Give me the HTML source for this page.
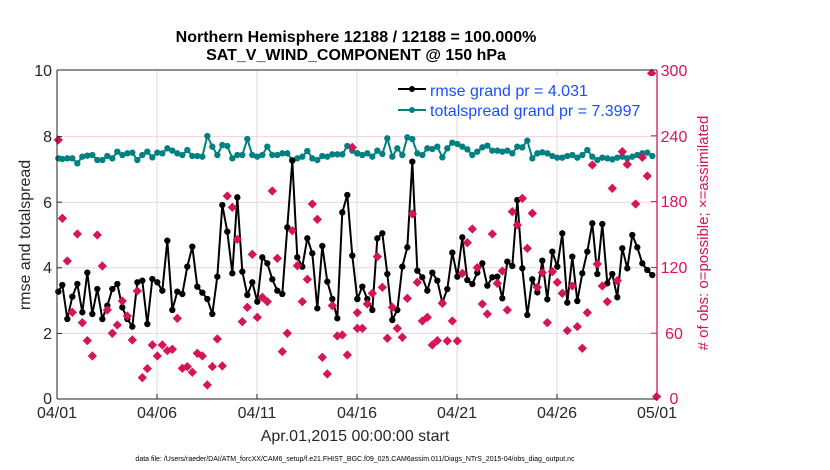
<!DOCTYPE html>
<html><head><style>body{margin:0;background:#fff}svg{display:block;font-family:"Liberation Sans",sans-serif}</style></head><body>
<svg width="830" height="470" viewBox="0 0 830 470">
<defs><path id="d" d="M0,-14 L14,0 L0,14 L-14,0Z" fill="#d6145a"/>
<marker id="mk" markerUnits="userSpaceOnUse" markerWidth="24" markerHeight="24" refX="12" refY="12" viewBox="0 0 24 24"><circle cx="12" cy="12" r="9.5" fill="#000"/></marker>
<marker id="mt" markerUnits="userSpaceOnUse" markerWidth="24" markerHeight="24" refX="12" refY="12" viewBox="0 0 24 24"><circle cx="12" cy="12" r="9.5" fill="#008080"/></marker>
</defs>
<rect width="830" height="470" fill="#fff"/>
<g stroke="#f0d0dc" stroke-width="1">
<line x1="57" y1="333.4" x2="656" y2="333.4"/><line x1="57" y1="267.8" x2="656" y2="267.8"/><line x1="57" y1="202.2" x2="656" y2="202.2"/><line x1="57" y1="136.6" x2="656" y2="136.6"/></g>
<g stroke="#dcdcdc" stroke-width="1"><line x1="157" y1="70" x2="157" y2="399"/><line x1="257" y1="70" x2="257" y2="399"/><line x1="357" y1="70" x2="357" y2="399"/><line x1="457" y1="70" x2="457" y2="399"/><line x1="557" y1="70" x2="557" y2="399"/></g>
<g transform="translate(50,120) scale(0.3333)">
<polyline fill="none" stroke="#008080" stroke-width="6" marker-start="url(#mt)" marker-mid="url(#mt)" marker-end="url(#mt)" points="25,115 37,117 52,115 67,115 82,130 97,110 112,107 127,105 142,120 157,120 172,108 187,115 202,95 217,105 232,100 247,98 262,120 277,105 292,95 307,112 322,98 337,100 352,85 367,92 382,100 397,105 412,90 427,108 442,108 457,110 472,48 487,80 502,105 517,75 532,78 547,115 562,105 577,105 592,57 607,105 622,110 637,105 652,80 667,105 682,105 697,100 712,100 727,120 742,115 757,110 772,93 787,115 802,120 817,108 832,110 847,103 862,103 877,103 892,78 907,92 922,100"/>
<polyline fill="none" stroke="#000" stroke-width="6" marker-start="url(#mk)" marker-mid="url(#mk)" marker-end="url(#mk)" points="25,515 37,495 52,597 67,530 82,492 97,577 112,458 127,582 142,507 157,597 172,557 187,507 202,492 217,562 232,597 247,620 262,487 277,482 292,612 307,477 322,487 337,512 352,362 367,570 382,515 397,522 412,440 427,380 442,500 457,518 472,537 487,582 502,470 517,255 532,335 547,460 562,232 577,455 592,525 607,487 622,545 637,412 652,430 667,478 682,512 697,522 712,322 727,122 742,412 757,440 772,355 787,400 802,565 817,378 832,485 847,537 862,595 877,277 892,225 907,407 922,537"/>
</g>
<g transform="translate(350,120) scale(0.3333)">
<polyline fill="none" stroke="#008080" stroke-width="6" marker-start="url(#mt)" marker-mid="url(#mt)" marker-end="url(#mt)" points="22,100 37,105 52,100 67,110 82,92 97,102 112,55 127,110 142,85 157,105 172,52 187,57 202,100 217,105 232,85 247,87 262,80 277,112 292,85 307,68 322,72 337,80 352,88 367,105 382,95 397,82 412,77 427,92 442,92 457,95 472,92 487,100 502,80 517,82 532,62 547,115 562,100 577,97 592,100 607,108 622,113 637,113 652,108 667,105 682,113 697,105 712,90 727,110 742,120 757,113 772,115 787,118 802,113 817,110 832,115 847,110 862,105 877,100 892,98 907,108"/>
<polyline fill="none" stroke="#000" stroke-width="6" marker-start="url(#mk)" marker-mid="url(#mk)" marker-end="url(#mk)" points="22,537 37,500 52,537 67,570 82,355 97,340 112,462 127,600 142,570 157,440 172,382 187,125 202,452 217,472 232,512 247,458 262,482 277,548 292,507 307,398 322,470 337,352 352,480 367,492 382,458 397,430 412,497 427,472 442,470 457,535 472,425 487,438 502,240 517,445 532,585 547,478 562,517 577,422 592,538 607,395 622,440 637,340 652,548 667,410 682,543 697,460 712,395 727,310 742,462 757,312 772,490 787,462 802,532 817,385 832,445 847,345 862,382 877,430 892,450 907,465"/>
</g>
<g fill="#d6145a">
<g transform="translate(50,120) scale(0.3333)">
<use href="#d" x="25" y="60"/><use href="#d" x="37" y="295"/><use href="#d" x="52" y="423"/><use href="#d" x="67" y="577"/><use href="#d" x="82" y="342"/><use href="#d" x="97" y="608"/><use href="#d" x="112" y="662"/><use href="#d" x="127" y="708"/><use href="#d" x="142" y="345"/><use href="#d" x="157" y="438"/><use href="#d" x="172" y="570"/><use href="#d" x="187" y="640"/><use href="#d" x="202" y="615"/><use href="#d" x="217" y="543"/><use href="#d" x="232" y="588"/><use href="#d" x="247" y="660"/><use href="#d" x="262" y="513"/><use href="#d" x="277" y="773"/><use href="#d" x="292" y="746"/><use href="#d" x="307" y="675"/><use href="#d" x="322" y="708"/><use href="#d" x="337" y="675"/><use href="#d" x="352" y="692"/><use href="#d" x="367" y="688"/><use href="#d" x="382" y="595"/><use href="#d" x="397" y="745"/><use href="#d" x="412" y="740"/><use href="#d" x="427" y="757"/><use href="#d" x="442" y="700"/><use href="#d" x="457" y="708"/><use href="#d" x="472" y="795"/><use href="#d" x="487" y="740"/><use href="#d" x="502" y="657"/><use href="#d" x="517" y="738"/><use href="#d" x="532" y="228"/><use href="#d" x="547" y="262"/><use href="#d" x="562" y="358"/><use href="#d" x="577" y="605"/><use href="#d" x="592" y="562"/><use href="#d" x="607" y="403"/><use href="#d" x="622" y="592"/><use href="#d" x="637" y="532"/><use href="#d" x="652" y="545"/><use href="#d" x="667" y="213"/><use href="#d" x="682" y="415"/><use href="#d" x="697" y="695"/><use href="#d" x="712" y="640"/><use href="#d" x="727" y="332"/><use href="#d" x="742" y="437"/><use href="#d" x="757" y="545"/><use href="#d" x="772" y="478"/><use href="#d" x="787" y="252"/><use href="#d" x="802" y="298"/><use href="#d" x="817" y="712"/><use href="#d" x="832" y="762"/><use href="#d" x="847" y="557"/><use href="#d" x="862" y="648"/><use href="#d" x="877" y="645"/><use href="#d" x="892" y="705"/><use href="#d" x="907" y="82"/><use href="#d" x="922" y="578"/>
</g>
<g transform="translate(350,120) scale(0.3333)">
<use href="#d" x="22" y="625"/><use href="#d" x="37" y="625"/><use href="#d" x="52" y="552"/><use href="#d" x="67" y="520"/><use href="#d" x="82" y="410"/><use href="#d" x="97" y="502"/><use href="#d" x="112" y="655"/><use href="#d" x="127" y="562"/><use href="#d" x="142" y="625"/><use href="#d" x="157" y="652"/><use href="#d" x="172" y="535"/><use href="#d" x="187" y="282"/><use href="#d" x="202" y="487"/><use href="#d" x="217" y="603"/><use href="#d" x="232" y="592"/><use href="#d" x="247" y="675"/><use href="#d" x="262" y="662"/><use href="#d" x="277" y="550"/><use href="#d" x="292" y="663"/><use href="#d" x="307" y="603"/><use href="#d" x="322" y="663"/><use href="#d" x="337" y="460"/><use href="#d" x="352" y="368"/><use href="#d" x="367" y="327"/><use href="#d" x="382" y="443"/><use href="#d" x="397" y="552"/><use href="#d" x="412" y="582"/><use href="#d" x="427" y="342"/><use href="#d" x="442" y="490"/><use href="#d" x="457" y="453"/><use href="#d" x="472" y="570"/><use href="#d" x="487" y="275"/><use href="#d" x="502" y="315"/><use href="#d" x="517" y="235"/><use href="#d" x="532" y="385"/><use href="#d" x="547" y="280"/><use href="#d" x="562" y="502"/><use href="#d" x="577" y="458"/><use href="#d" x="592" y="608"/><use href="#d" x="607" y="455"/><use href="#d" x="622" y="487"/><use href="#d" x="637" y="520"/><use href="#d" x="652" y="632"/><use href="#d" x="667" y="498"/><use href="#d" x="682" y="620"/><use href="#d" x="697" y="685"/><use href="#d" x="712" y="578"/><use href="#d" x="727" y="135"/><use href="#d" x="742" y="432"/><use href="#d" x="757" y="498"/><use href="#d" x="772" y="545"/><use href="#d" x="787" y="205"/><use href="#d" x="802" y="482"/><use href="#d" x="817" y="95"/><use href="#d" x="832" y="133"/><use href="#d" x="857" y="252"/><use href="#d" x="877" y="112"/><use href="#d" x="892" y="168"/><use href="#d" x="905" y="-140"/><use href="#d" x="920" y="830"/>
</g></g>
<!-- legend -->
<rect x="392" y="76" width="262" height="40" fill="#fff"/>
<line x1="398" y1="89" x2="426" y2="89" stroke="#000" stroke-width="2"/><circle cx="412" cy="89" r="3" fill="#000"/>
<line x1="398" y1="110" x2="426" y2="110" stroke="#008080" stroke-width="2"/><circle cx="412" cy="110" r="3" fill="#008080"/>
<text x="430" y="96" font-size="16" fill="#1a4fff">rmse grand pr = 4.031</text>
<text x="430" y="116" font-size="16" fill="#1a4fff">totalspread grand pr = 7.3997</text>
<!-- axes -->
<line x1="57" y1="70" x2="657" y2="70" stroke="#222" stroke-width="1"/>
<line x1="57" y1="70" x2="57" y2="399" stroke="#222" stroke-width="1"/>
<line x1="57" y1="399" x2="657" y2="399" stroke="#222" stroke-width="1"/>
<line x1="657" y1="70" x2="657" y2="399" stroke="#d6145a" stroke-width="1.3"/>
<g stroke="#222"><line x1="57" y1="333.4" x2="62" y2="333.4"/><line x1="57" y1="267.8" x2="62" y2="267.8"/><line x1="57" y1="202.2" x2="62" y2="202.2"/><line x1="57" y1="136.6" x2="62" y2="136.6"/>
<line x1="157" y1="399" x2="157" y2="394"/><line x1="257" y1="399" x2="257" y2="394"/><line x1="357" y1="399" x2="357" y2="394"/><line x1="457" y1="399" x2="457" y2="394"/><line x1="557" y1="399" x2="557" y2="394"/></g>
<g stroke="#d6145a"><line x1="651" y1="333.2" x2="657" y2="333.2"/><line x1="651" y1="267.4" x2="657" y2="267.4"/><line x1="651" y1="201.6" x2="657" y2="201.6"/><line x1="651" y1="135.8" x2="657" y2="135.8"/></g>
<g font-size="16" fill="#262626" text-anchor="end">
<text x="52" y="404">0</text><text x="52" y="339">2</text><text x="52" y="273">4</text><text x="52" y="208">6</text><text x="52" y="142">8</text><text x="52" y="76">10</text></g>
<g font-size="16" fill="#d6145a" text-anchor="middle">
<text x="674" y="404">0</text><text x="674" y="339">60</text><text x="674" y="273">120</text><text x="674" y="207">180</text><text x="674" y="142">240</text><text x="674" y="76">300</text></g>
<g font-size="16" fill="#262626" text-anchor="middle">
<text x="57" y="418">04/01</text><text x="157" y="418">04/06</text><text x="257" y="418">04/11</text><text x="357" y="418">04/16</text><text x="457" y="418">04/21</text><text x="557" y="418">04/26</text><text x="657" y="418">05/01</text>
<text x="355" y="441">Apr.01,2015 00:00:00 start</text>
<text transform="translate(30,235) rotate(-90)">rmse and totalspread</text>
</g>
<text transform="translate(708,233) rotate(-90)" font-size="15" fill="#d6145a" text-anchor="middle"># of obs: o=possible; ×=assimilated</text>
<g font-weight="bold" font-size="16" fill="#000" text-anchor="middle">
<text x="356" y="42">Northern Hemisphere 12188 / 12188 = 100.000%</text>
<text x="356" y="60">SAT_V_WIND_COMPONENT @ 150 hPa</text></g>
<text x="355" y="461" font-size="7" fill="#000" text-anchor="middle">data file: /Users/raeder/DAI/ATM_forcXX/CAM6_setup/f.e21.FHIST_BGC.f09_025.CAM6assim.011/Diags_NTrS_2015-04/obs_diag_output.nc</text>
</svg>
</body></html>
